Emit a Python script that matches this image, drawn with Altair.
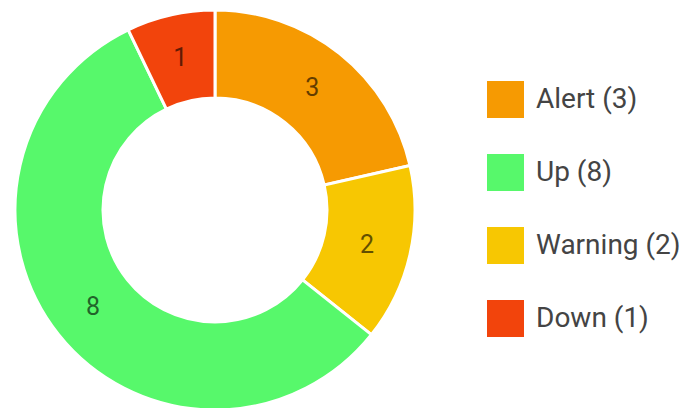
import altair as alt
import pandas as pd

statuses = ["Alert", "Warning", "Up", "Down"]
counts = [3, 2, 8, 1]
colors = {"Alert": "#F69A02", "Warning": "#F7C702", "Up": "#57F86B", "Down": "#F2440C"}
legend_order = ["Alert", "Up", "Warning", "Down"]

df = pd.DataFrame({
    "status": statuses,
    "count": counts,
    "order": list(range(len(statuses))),
})
df["label"] = [f"{s} ({c})" for s, c in zip(statuses, counts)]
legend_labels = [f"{s} ({counts[statuses.index(s)]})" for s in legend_order]
legend_colors = [colors[s] for s in legend_order]

base = alt.Chart(df).encode(
    theta=alt.Theta("count:Q", stack=True),
    order=alt.Order("order:Q"),
)

arcs = base.mark_arc(outerRadius=200, innerRadius=112, stroke="white", strokeWidth=3, x=207, y=202).encode(
    color=alt.Color(
        "label:N",
        scale=alt.Scale(domain=legend_labels, range=legend_colors),
        legend=alt.Legend(
            title=None, orient="none", legendX=479, legendY=73, padding=0,
            symbolType="square", symbolSize=1369, symbolStrokeWidth=0,
            labelFontSize=28, labelFont="Roboto", labelColor="#444444",
            labelOffset=12, rowPadding=36,
        ),
    ),
)

texts = base.mark_text(radius=156, fontSize=25, font="Roboto", color="black", opacity=0.6, x=207, y=202).encode(
    text="count:Q",
)

chart = alt.layer(arcs, texts).properties(
    width=680, height=400, padding=0,
    autosize=alt.AutoSizeParams(type="none"),
).configure_view(stroke=None)
chart.save("out.html", embed_options={"renderer": "svg", "actions": False})
